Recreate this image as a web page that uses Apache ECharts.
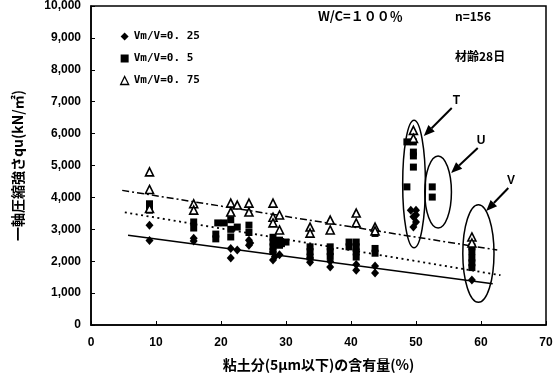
<!DOCTYPE html>
<html>
<head>
<meta charset="utf-8">
<script src="https://cdn.jsdelivr.net/npm/echarts@6/dist/echarts.min.js"></script>
<style>
  html, body { margin: 0; padding: 0; background: #fff; }
  #chart { width: 559px; height: 380px; }
</style>
</head>
<body>
<div id="chart"></div>
<script>
// Clay content (%) vs. unconfined compressive strength qu (kN/m2), W/C = 100 %, age 28 days
const seriesNames = ['Vm/V=0. 25', 'Vm/V=0. 5', 'Vm/V=0. 75'];

// [clay content %, qu]
const pointsVm025 = [
  [9, 3130], [9, 2650],
  [15.8, 2720], [15.8, 2630],
  [21.5, 2400], [21.5, 2100], [22.5, 2350],
  [24.3, 2660], [24.3, 2500], [24.5, 2570],
  [28, 2290], [28, 2040], [28.3, 2150], [29, 2200],
  [33.7, 1970], [33.7, 2100],
  [36.8, 1820], [36.8, 2000],
  [40.8, 1720], [40.8, 1900],
  [43.7, 1630], [43.7, 1850],
  [49.2, 3600], [50, 3600], [49.6, 3390], [50, 3230], [49.6, 3070], [50, 3450],
  [58.6, 1410]
];
const pointsVm050 = [
  [9, 3800], [9, 3600],
  [15.8, 3230], [15.8, 3040],
  [19.5, 3200], [19.2, 2850], [19.2, 2700], [20.5, 3200],
  [21.5, 3300], [21.5, 3000], [21.5, 2760], [22.5, 3070],
  [24.3, 3130], [24.3, 2900],
  [28, 2750], [28, 2600], [28, 2450], [28, 2300],
  [29, 2660], [29, 2500], [29.3, 2550], [30, 2600],
  [33.7, 2450], [33.7, 2300], [33.7, 2130],
  [36.8, 2450], [36.8, 2300], [36.8, 2150],
  [39.7, 2600], [39.7, 2450],
  [40.8, 2600], [40.8, 2450], [40.8, 2290], [40.8, 2130],
  [43.7, 2870], [43.7, 2400], [43.7, 2250],
  [48.6, 5740], [48.6, 4330],
  [49.6, 5740], [49.6, 5420], [49.6, 5300], [49.6, 4950],
  [52.5, 4330], [52.5, 4010],
  [58.6, 2450], [58.6, 2300], [58.6, 2100], [58.6, 1950], [58.6, 1800]
];
const pointsVm075 = [
  [9, 4800], [9, 4250], [9, 3650],
  [15.8, 3800], [15.8, 3600],
  [21.5, 3820], [21.5, 3540], [22.5, 3760],
  [24.3, 3820], [24.3, 3540],
  [28, 3820], [28, 3380], [28, 3200],
  [29, 3450], [29, 2980],
  [33.7, 3070], [33.7, 2880],
  [36.8, 3290], [36.8, 2980],
  [40.8, 3510], [40.8, 3200],
  [43.7, 3070], [43.7, 2950],
  [49.6, 6100], [49.6, 5850],
  [58.6, 2760], [58.6, 2570]
];

// Regression lines (end points)
const fitVm025 = [[5.7, 2810], [61.8, 1290]];
const fitVm050 = [[5.2, 3530], [63, 1560]];
const fitVm075 = [[4.8, 4220], [62.5, 2350]];

const xTicks = [0, 10, 20, 30, 40, 50, 60, 70];
const yTicks = [0, 1000, 2000, 3000, 4000, 5000, 6000, 7000, 8000, 9000, 10000];

// Grouping ellipses: [cx, cy, rx, ry] in data units, with label and arrow [tail, tip]
const groups = [
  { label: 'T', ellipse: [49.7, 4420, 1.75, 2000], labelAt: [56.2, 7020], arrow: [[55.5, 6800], [51.2, 5925]] },
  { label: 'U', ellipse: [53.4, 4170, 2.05, 1130], labelAt: [60.0, 5770], arrow: [[59.5, 5550], [55.4, 4765]] },
  { label: 'V', ellipse: [59.6, 2240, 2.4, 1530], labelAt: [64.6, 4515], arrow: [[64.2, 4295], [60.8, 3575]] }
];

const cjk = '"Noto Sans CJK JP", "Noto Sans", sans-serif';
const chart = echarts.init(document.getElementById('chart'));

const option = {
  animation: false,
  backgroundColor: '#fff',
  grid: { left: 91, right: 13, top: 6, bottom: 55, show: true, borderColor: '#000', borderWidth: 1.5 },
  legend: {
    orient: 'vertical', left: 115, top: 26, itemGap: 11, itemWidth: 8, itemHeight: 8,
    textStyle: { fontFamily: '"DejaVu Sans Mono", monospace', fontWeight: 'bold', fontSize: 11, color: '#000' },
    data: [
      { name: seriesNames[0], icon: 'diamond' },
      { name: seriesNames[1], icon: 'rect' },
      { name: seriesNames[2], icon: 'triangle', itemStyle: { color: '#fff', borderColor: '#000', borderWidth: 1.3 } }
    ]
  },
  xAxis: {
    type: 'value', min: 0, max: 70, interval: 10,
    name: '粘土分(5μm以下)の含有量(%)', nameLocation: 'middle', nameGap: 33,
    nameTextStyle: { fontFamily: cjk, fontWeight: 'bold', fontSize: 14, color: '#000' },
    axisLine: { lineStyle: { color: '#000', width: 1.5 } },
    axisTick: { inside: true, length: 4, lineStyle: { color: '#000' } },
    axisLabel: { fontFamily: 'Liberation Sans, Arial', fontWeight: 'bold', fontSize: 12, color: '#000', margin: 12 },
    splitLine: { show: false }
  },
  yAxis: {
    type: 'value', min: 0, max: 10000, interval: 1000,
    name: '一軸圧縮強さqu(kN/㎡)', nameLocation: 'middle', nameGap: 66,
    nameTextStyle: { fontFamily: cjk, fontWeight: 'bold', fontSize: 14, color: '#000' },
    axisLine: { show: true, lineStyle: { color: '#000', width: 1.5 } },
    axisTick: { show: true, inside: true, length: 4, lineStyle: { color: '#000' } },
    axisLabel: {
      fontFamily: 'Liberation Sans, Arial', fontWeight: 'bold', fontSize: 12, color: '#000', margin: 10,
      formatter: v => yTicks.includes(v) ? v.toLocaleString('en-US') : ''
    },
    splitLine: { show: false }
  },
  series: [
    {
      name: seriesNames[0], type: 'scatter', data: pointsVm025, symbol: 'diamond', symbolSize: [8, 9],
      itemStyle: { color: '#000', opacity: 1 }, z: 3
    },
    {
      name: seriesNames[1], type: 'scatter', data: pointsVm050, symbol: 'rect', symbolSize: [7, 7],
      itemStyle: { color: '#000', opacity: 1 }, z: 3
    },
    {
      name: seriesNames[2], type: 'scatter', data: pointsVm075, symbol: 'triangle', symbolSize: [8, 8],
      itemStyle: { color: '#fff', borderColor: '#000', borderWidth: 1.6, opacity: 1 }, z: 4
    },
    {
      type: 'line', data: fitVm025, symbol: 'none', silent: true,
      lineStyle: { color: '#000', width: 1.5, type: 'solid' }, z: 2
    },
    {
      type: 'line', data: fitVm050, symbol: 'none', silent: true,
      lineStyle: { color: '#000', width: 1.8, type: [2, 3.5] }, z: 2
    },
    {
      type: 'line', data: fitVm075, symbol: 'none', silent: true,
      lineStyle: { color: '#000', width: 1.5, type: [7, 3, 2, 3] }, z: 2
    }
  ],
  graphic: [
    { type: 'text', left: 318, top: 10, style: { text: 'W/C=１００％', font: 'bold 13px ' + cjk, fill: '#000' } },
    { type: 'text', left: 455, top: 10, style: { text: 'n=156', font: 'bold 12px ' + cjk, fill: '#000' } },
    { type: 'text', left: 455, top: 50, style: { text: '材齢28日', font: 'bold 12px ' + cjk, fill: '#000' } }
  ]
};
chart.setOption(option);

// Group ellipses, arrows and labels placed through the axis scales
const px = p => chart.convertToPixel({ gridIndex: 0 }, p);
const annotations = [];
groups.forEach(g => {
  const [cx, cy, rx, ry] = g.ellipse;
  const c = px([cx, cy]);
  const e = px([cx + rx, cy + ry]);
  annotations.push({
    type: 'ellipse', shape: { cx: c[0], cy: c[1], rx: Math.abs(e[0] - c[0]), ry: Math.abs(e[1] - c[1]) },
    style: { fill: 'none', stroke: '#000', lineWidth: 1.5 }, z: 10
  });
  const tail = px(g.arrow[0]);
  const tip = px(g.arrow[1]);
  const ang = Math.atan2(tip[1] - tail[1], tip[0] - tail[0]);
  const hl = 11, hw = 4.5;
  const bx = tip[0] - hl * Math.cos(ang), by = tip[1] - hl * Math.sin(ang);
  annotations.push({
    type: 'line', shape: { x1: tail[0], y1: tail[1], x2: bx, y2: by },
    style: { stroke: '#000', lineWidth: 2 }, z: 10
  });
  annotations.push({
    type: 'polygon',
    shape: { points: [tip, [bx + hw * Math.sin(ang), by - hw * Math.cos(ang)], [bx - hw * Math.sin(ang), by + hw * Math.cos(ang)]] },
    style: { fill: '#000' }, z: 10
  });
  const l = px(g.labelAt);
  annotations.push({
    type: 'text', x: l[0], y: l[1],
    style: { text: g.label, font: 'bold 12px "Liberation Sans", Arial', fill: '#000', align: 'center', verticalAlign: 'middle' }, z: 10
  });
});
chart.setOption({ graphic: option.graphic.concat(annotations) });
</script>
</body>
</html>
